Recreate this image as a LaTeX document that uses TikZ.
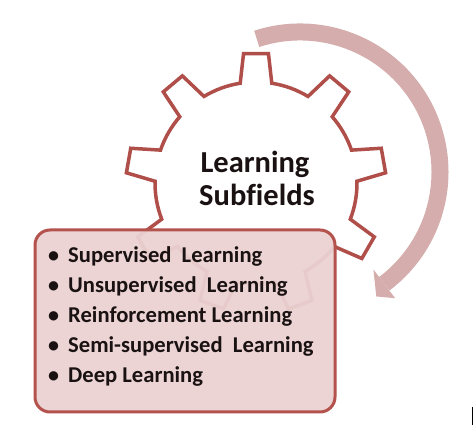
\documentclass[tikz,border=0pt]{standalone}
\usepackage{fontspec}
\setmainfont{Carlito}[Ligatures=NoCommon]
\definecolor{gearred}{HTML}{B04E4A}
\definecolor{arcpink}{HTML}{D6ADAD}
\definecolor{boxfill}{HTML}{EBD2D2}
\definecolor{boxline}{HTML}{B4524E}
\definecolor{txt}{HTML}{1A1212}
\begin{document}
\begin{tikzpicture}[x=1pt,y=1pt,
  gearline/.style={draw=gearred, line width=3.5pt, line join=miter, fill=white},
  arcband/.style={draw=arcpink, line width=17pt},
  listbox/.style={draw=boxline, line width=3pt, fill=boxfill, fill opacity=0.95, rounded corners=15pt, minimum width=300pt, minimum height=182pt, inner sep=0pt},
  titletext/.style={font=\fontsize{30.5}{36}\selectfont\bfseries, text=txt, inner sep=0pt, anchor=base},
  itemtext/.style={font=\fontsize{22.6}{27}\selectfont\bfseries, text=txt, inner sep=0pt, anchor=base west},
  bullettext/.style={font=\fontsize{22}{27}\selectfont\bfseries, text=txt, inner sep=0pt, anchor=base}]
\useasboundingbox (0,0) rectangle (474,-427);
\fill[white] (0,0) rectangle (474,-427);
% gear
\begin{scope}[shift={(256,-183)}]
\draw[gearline] (81:101) \foreach \a in {90,130,...,410} { -- ({\a-5.5}:130) -- ({\a+5.5}:130) -- ({\a+9}:101) arc[start angle={\a+9}, end angle={\a+31}, radius=101] } -- cycle;
\end{scope}
% circular arrow
\begin{scope}[shift={(300,-172)}]
\draw[arcband] (108:140) arc[start angle=108, end angle=-53, radius=140];
\fill[arcpink] (-53:158) -- (-58.5:146) -- (-53:122) -- cycle;
\end{scope}
% title
\node[titletext] (t1) at (255,-173) {Learning};
\node[titletext] (t2) at (257,-206) {Subfields};
% list box
\node[listbox] (box) at (185,-321) {};
\foreach \i/\y/\s in {1/263/{Supervised~\ Learning},2/293/{Unsupervised~\ Learning},3/323/{Reinforcement Learning},4/353/{Semi-supervised~\ Learning},5/383/{Deep Learning}}{
  \node[bullettext] (b\i) at (53.5,-\y) {\textbullet};
  \node[itemtext] (l\i) at (68,-\y) {\s};
}
\draw[black, line width=1pt] (472.5,-407) -- (472.5,-425);
\end{tikzpicture}
\end{document}
